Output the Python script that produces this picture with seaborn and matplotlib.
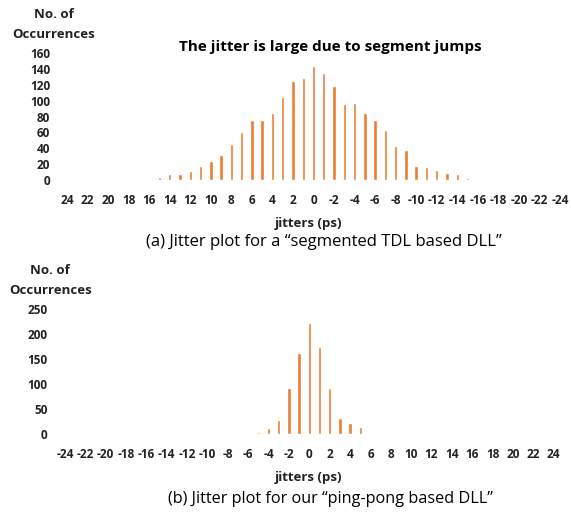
import matplotlib
matplotlib.use("Agg")
import pandas as pd
import matplotlib.pyplot as plt
import seaborn as sns

# --- data ---
# (a) segmented TDL based DLL, x axis runs 24 -> -24
jitter_a = list(range(24, -25, -1))
count_a = [0, 0, 0, 0, 0, 0, 1, 1, 1, 4, 7, 8, 11, 18, 24, 32, 45, 60, 76, 76,
           85, 105, 125, 129, 143, 135, 119, 96, 97, 85, 75, 63, 43, 38, 18, 16,
           13, 9, 8, 2, 1, 1, 1, 1, 0, 0, 0, 1, 0]
# (b) ping-pong based DLL, x axis runs -24 -> 24
jitter_b = list(range(-24, 25))
count_b = [0] * 18 + [1, 4, 12, 29, 93, 162, 222, 175, 93, 32, 22, 14] + [0] * 19

ticks_a = [str(v) for v in range(24, -25, -2)]
ticks_b = [str(v) for v in range(-24, 25, 2)]
yticks_a = list(range(0, 161, 20))
yticks_b = list(range(0, 251, 50))

bar_color = "#ED7D31"

sns.set_theme(style="white")
plt.rcParams['font.family'] = ['Open Sans', 'DejaVu Sans']

fig = plt.figure(figsize=(5.71, 5.14), dpi=100)
W, H = 571, 514


def add_ax(x0, x1, y_bottom, y_top):
    return fig.add_axes([x0 / W, 1 - y_bottom / H, (x1 - x0) / W, (y_bottom - y_top) / H])


def style_axis(ax, labels, yticks, ypad):
    ax.set_xticks(range(0, len(labels) * 2, 2))
    ax.set_xticklabels(labels, fontsize=8.5, fontweight='bold', color='#222222')
    ax.set_yticks(yticks)
    ax.set_yticklabels([str(v) for v in yticks], fontsize=8.5, fontweight='bold', color='#222222')
    ax.tick_params(axis='x', length=0, pad=10)
    ax.tick_params(axis='y', length=0, pad=ypad)
    ax.set_xlabel("")
    ax.set_ylabel("")
    for s in ax.spines.values():
        s.set_visible(False)
    ax.set_facecolor('none')


# --- top chart ---
df_a = pd.DataFrame({"jitter": [str(v) for v in jitter_a], "count": count_a})
ax1 = add_ax(61.9, 565.1, 180, 53)
sns.barplot(data=df_a, x="jitter", y="count", order=df_a["jitter"], color=bar_color,
            width=0.33, saturation=1, ax=ax1)
ax1.set_xlim(-0.5, len(jitter_a) - 0.5)
ax1.set_ylim(0, 160)
style_axis(ax1, ticks_a, yticks_a, 8.5)

# --- bottom chart ---
df_b = pd.DataFrame({"jitter": [str(v) for v in jitter_b], "count": count_b})
ax2 = add_ax(59.9, 558.8, 434.3, 309.3)
sns.barplot(data=df_b, x="jitter", y="count", order=df_b["jitter"], color=bar_color,
            width=0.33, saturation=1, ax=ax2)
ax2.set_xlim(-0.5, len(jitter_b) - 0.5)
ax2.set_ylim(0, 250)
style_axis(ax2, ticks_b, yticks_b, 9)


# --- texts ---
def ftext(x, y, s, **kw):
    fig.text(x / W, 1 - y / H, s, ha='center', va='center', **kw)


ftext(54, 15, "No. of", fontsize=9.5, fontweight='bold', color='#222222')
ftext(54, 35, "Occurrences", fontsize=9.5, fontweight='bold', color='#222222')
ftext(330, 47, "The jitter is large due to segment jumps", fontsize=11, fontweight='bold', color='black')
ftext(309, 224, "jitters (ps)", fontsize=9.5, fontweight='bold', color='#222222')
ftext(324, 242, "(a) Jitter plot for a \u201csegmented TDL based DLL\u201d", fontsize=12, color='black')

ftext(50, 271, "No. of", fontsize=9.5, fontweight='bold', color='#222222')
ftext(51, 291, "Occurrences", fontsize=9.5, fontweight='bold', color='#222222')
ftext(309, 477, "jitters (ps)", fontsize=9.5, fontweight='bold', color='#222222')
ftext(330, 499, "(b) Jitter plot for our \u201cping-pong based DLL\u201d", fontsize=11.7, color='black')

fig.savefig("out.png", dpi=100)
